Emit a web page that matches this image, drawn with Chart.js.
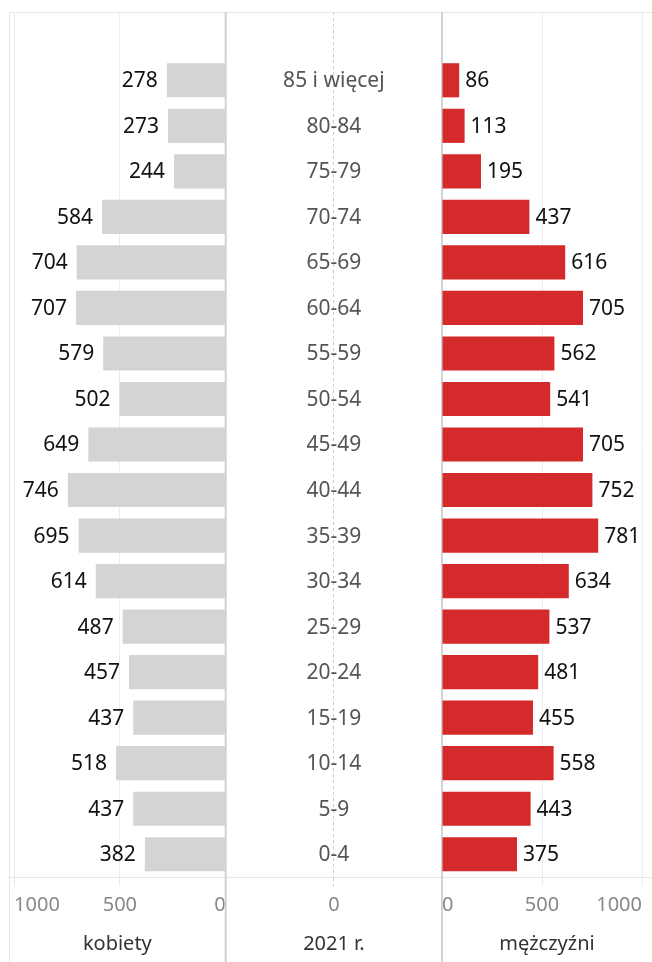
<!DOCTYPE html>
<html>
<head>
<meta charset="utf-8">
<script src="https://cdn.jsdelivr.net/npm/chart.js@4.4.0/dist/chart.umd.min.js"></script>
<style>
  html, body { margin: 0; padding: 0; background: #fff; }
  #wrap { width: 652px; height: 962px; position: relative; }
</style>
</head>
<body>
<div id="wrap"><canvas id="pyramid"></canvas></div>
<script>
// age groups, top to bottom
const ageGroups = ['85 i więcej', '80-84', '75-79', '70-74', '65-69', '60-64', '55-59', '50-54',
  '45-49', '40-44', '35-39', '30-34', '25-29', '20-24', '15-19', '10-14', '5-9', '0-4'];
const women = [278, 273, 244, 584, 704, 707, 579, 502, 649, 746, 695, 614, 487, 457, 437, 518, 437, 382];
const men = [86, 113, 195, 437, 616, 705, 562, 541, 705, 752, 781, 634, 537, 481, 455, 558, 443, 375];
const sideTicks = [0, 500, 1000];
const middleTicks = [0];
const paneTitles = ['kobiety', '2021 r.', 'mężczyźni'];

const FONT = "'Noto Sans', sans-serif";
const GRID = '#ececec';
const NONE = 'rgba(0,0,0,0)';

// first row is an empty header slot, like in the original
const rows = [''].concat(ageGroups);

function sideGrid(ctx) {
  return ctx.tick && ctx.tick.value === 0 ? NONE : GRID;
}

function sideScale(title, weight, max, reverse) {
  return {
    type: 'linear',
    position: 'bottom',
    stack: 'panes',
    stackWeight: weight,
    reverse: reverse,
    min: 0,
    max: max,
    afterBuildTicks: s => { s.ticks = sideTicks.map(v => ({ value: v })); },
    afterFit: s => { s.paddingLeft = 0; s.paddingRight = 0; },
    grid: { color: sideGrid, tickColor: sideGrid, tickLength: 9, lineWidth: 1 },
    border: { color: '#e6e6e6' },
    ticks: {
      align: 'inner', color: '#888', font: { family: FONT, size: 20 }, padding: 7,
      maxRotation: 0, autoSkip: false, callback: v => String(v)
    },
    title: { display: true, text: title, color: '#333', font: { family: FONT, size: 20 }, padding: { top: 8, bottom: 6 } }
  };
}

const paneLines = {
  id: 'paneLines',
  beforeDatasetsDraw(chart) {
    const { ctx, chartArea } = chart;
    const h = chart.height;
    ctx.save();
    ctx.strokeStyle = '#e6e6e6';
    ctx.lineWidth = 1;
    ctx.beginPath();
    ctx.moveTo(chartArea.left, chartArea.top + 0.5);
    ctx.lineTo(chart.width, chartArea.top + 0.5);
    ctx.moveTo(chartArea.left + 0.5, chartArea.top);
    ctx.lineTo(chartArea.left + 0.5, h);
    ctx.stroke();
    ctx.strokeStyle = '#d2d2d2';
    ctx.lineWidth = 2;
    ctx.beginPath();
    [chart.scales.xW.getPixelForValue(0), chart.scales.xM.getPixelForValue(0)].forEach(x => {
      ctx.moveTo(x, chartArea.top);
      ctx.lineTo(x, h);
    });
    ctx.stroke();
    ctx.restore();
  }
};

const barLabels = {
  id: 'barLabels',
  afterDatasetsDraw(chart) {
    const ctx = chart.ctx;
    ctx.save();
    ctx.font = '21px ' + FONT;
    ctx.textBaseline = 'middle';
    ctx.fillStyle = '#111';
    chart.data.datasets.forEach((ds, di) => {
      chart.getDatasetMeta(di).data.forEach((bar, i) => {
        const v = ds.data[i];
        if (v == null) return;
        if (di === 0) {
          ctx.textAlign = 'right';
          ctx.fillText(v, bar.x - 9, bar.y + 1);
        } else {
          ctx.textAlign = 'left';
          ctx.fillText(v, bar.x + 6, bar.y + 1);
        }
      });
    });
    // age labels in the middle pane
    const mid = chart.scales.xMid.getPixelForValue(0);
    ctx.textAlign = 'center';
    ctx.fillStyle = '#555';
    chart.data.labels.forEach((lab, i) => {
      if (!lab) return;
      ctx.fillText(lab, mid, chart.scales.y.getPixelForValue(i) + 1);
    });
    ctx.restore();
  }
};

const chart = new Chart('pyramid', {
  type: 'bar',
  data: {
    labels: rows,
    datasets: [
      {
        label: 'kobiety',
        xAxisID: 'xW',
        data: [null].concat(women),
        backgroundColor: '#d4d4d4',
        barPercentage: 0.75,
        categoryPercentage: 1,
        grouped: false
      },
      {
        label: 'mężczyźni',
        xAxisID: 'xM',
        data: [null].concat(men),
        backgroundColor: '#d42a2c',
        barPercentage: 0.75,
        categoryPercentage: 1,
        grouped: false
      }
    ]
  },
  options: {
    indexAxis: 'y',
    responsive: true,
    maintainAspectRatio: false,
    animation: false,
    layout: { padding: { left: 9, top: 12, right: 0, bottom: 0 } },
    plugins: { legend: { display: false }, tooltip: { enabled: false } },
    scales: {
      y: { type: 'category', display: false, offset: true, grid: { display: false } },
      xW: sideScale(paneTitles[0], 216.7, 1024, true),
      xMid: {
        type: 'linear',
        position: 'bottom',
        stack: 'panes',
        stackWeight: 216.3,
        min: -1,
        max: 1,
        afterBuildTicks: s => { s.ticks = middleTicks.map(v => ({ value: v })); },
        afterFit: s => { s.paddingLeft = 0; s.paddingRight = 0; },
        grid: { color: '#c8c8c8', tickColor: '#c8c8c8', tickLength: 9, lineWidth: 1, tickBorderDash: [3, 3] },
        border: { color: '#e6e6e6', dash: [3, 3] },
        ticks: { color: '#888', font: { family: FONT, size: 20 }, padding: 7, maxRotation: 0, callback: v => String(v) },
        title: { display: true, text: paneTitles[1], color: '#333', font: { family: FONT, size: 20 }, padding: { top: 8, bottom: 6 } }
      },
      xM: sideScale(paneTitles[2], 210, 1050, false)
    }
  },
  plugins: [paneLines, barLabels]
});
</script>
</body>
</html>
